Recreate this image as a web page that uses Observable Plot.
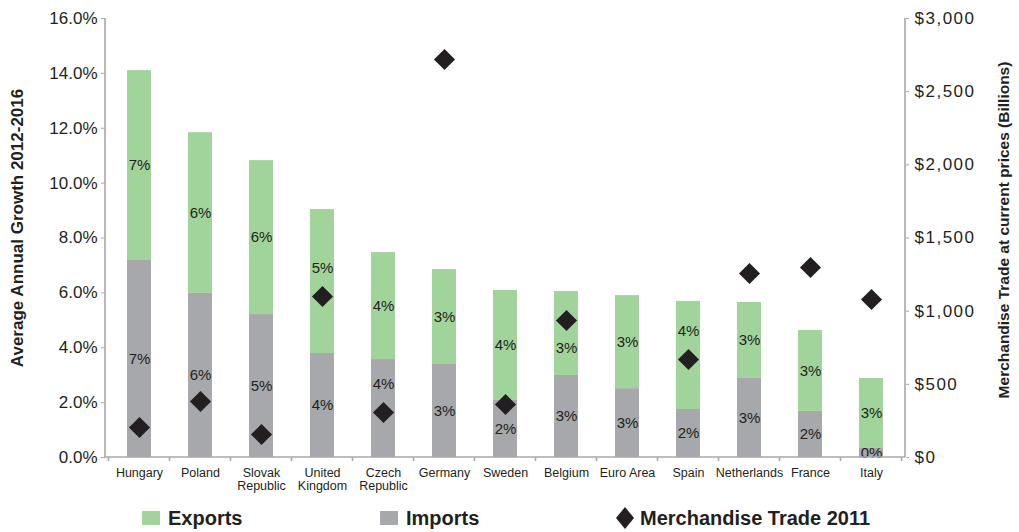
<!DOCTYPE html>
<html>
<head>
<meta charset="utf-8">
<script src="https://cdn.jsdelivr.net/npm/d3@7"></script>
<script src="https://cdn.jsdelivr.net/npm/@observablehq/plot@0.6"></script>
<style>
  body { margin: 0; background: #fff; font-family: "Liberation Sans", Arial, sans-serif; color: #231f20; }
  #chart svg { display: block; }
  .right-ticks text { letter-spacing: 1.5px; }
  #legend { position: relative; width: 1019px; height: 32px; font: bold 20px "Liberation Sans", Arial, sans-serif; color: #231f20; }
  #legend .item { position: absolute; top: 0; height: 32px; }
  #legend .sw { position: absolute; top: 11px; width: 18px; height: 14px; }
  #legend .lbl { position: absolute; top: 6px; line-height: 24px; white-space: nowrap; }
</style>
</head>
<body>
<div id="chart"></div>
<div id="legend"></div>
<script>
const categories = ["Hungary","Poland","Slovak Republic","United Kingdom","Czech Republic","Germany","Sweden","Belgium","Euro Area","Spain","Netherlands","France","Italy"];
const xLabels = ["Hungary","Poland","Slovak\nRepublic","United\nKingdom","Czech\nRepublic","Germany","Sweden","Belgium","Euro Area","Spain","Netherlands","France","Italy"];
const imports = [7.18,5.98,5.21,3.79,3.57,3.39,2.08,2.99,2.51,1.75,2.88,1.68,0.33];
const exports = [6.92,5.86,5.61,5.25,3.90,3.46,4.01,3.06,3.39,3.94,2.77,2.95,2.55];
const importLabels = ["7%","6%","5%","4%","4%","3%","2%","3%","3%","2%","3%","2%","0%"];
const exportLabels = ["7%","6%","6%","5%","4%","3%","4%","3%","3%","4%","3%","3%","3%"];
const trade2011 = [205,383,157,1100,307,2720,362,936,null,670,1257,1298,1080];
const leftTicks = [0,2,4,6,8,10,12,14,16];
const rightTicks = [0,500,1000,1500,2000,2500,3000];
const leftMax = 16, rightMax = 3000;
const leftTitle = "Average Annual Growth 2012-2016";
const rightTitle = "Merchandise Trade at current prices (Billions)";
const seriesNames = ["Exports","Imports","Merchandise Trade 2011"];
const green = "#a1d49b", gray = "#a6a8ab", ink = "#231f20", axisGray = "#a8a8a8";

const toLeft = v => v / rightMax * leftMax;

// label placement: keep segment labels clear of the diamond markers
const clearNear = 0.73, clearAway = 1.02; // in left-axis units
const segs = [];
categories.forEach((c, i) => {
  const d = trade2011[i] == null ? null : toLeft(trade2011[i]);
  const place = (y1, y2) => {
    const mid = (y1 + y2) / 2;
    if (d == null || Math.abs(mid - d) >= clearNear) return mid;
    return mid >= d ? d + clearAway : d - clearAway;
  };
  segs.push({country: c, type: "Imports", y1: 0, y2: imports[i], label: importLabels[i], ly: place(0, imports[i])});
  segs.push({country: c, type: "Exports", y1: imports[i], y2: imports[i] + exports[i], label: exportLabels[i], ly: place(imports[i], imports[i] + exports[i])});
});
const trade = categories.map((c, i) => ({country: c, trade: trade2011[i]})).filter(d => d.trade != null);

function axisLines(index, scales, values, dimensions) {
  const {width, height, marginLeft, marginRight, marginBottom} = dimensions;
  const x = scales.x;
  const step = x(categories[1]) - x(categories[0]);
  const bw = typeof x.bandwidth === "function" ? x.bandwidth() : step * 0.39;
  const start = x(categories[0]) - (step - bw) / 2;
  const yb = height - marginBottom;
  const g = d3.create("svg:g").attr("stroke", axisGray).attr("stroke-width", 1.6).attr("fill", "none");
  g.append("line").attr("x1", marginLeft).attr("x2", width - marginRight).attr("y1", yb).attr("y2", yb);
  g.append("line").attr("x1", marginLeft).attr("x2", marginLeft).attr("y1", scales.y(leftMax)).attr("y2", yb);
  g.append("line").attr("x1", width - marginRight).attr("x2", width - marginRight).attr("y1", scales.y(leftMax)).attr("y2", yb);
  for (let i = 0; i <= categories.length; i++) {
    const xx = start + i * step;
    g.append("line").attr("x1", xx).attr("x2", xx).attr("y1", yb).attr("y2", yb + 4);
  }
  return g.node();
}

const chart = Plot.plot({
  width: 1019,
  height: 500,
  marginLeft: 105,
  marginRight: 114,
  marginTop: 18,
  marginBottom: 43,
  style: {fontFamily: '"Liberation Sans", Arial, sans-serif', color: ink, background: "#fff"},
  x: {domain: categories, paddingInner: 0.61, paddingOuter: 0.305, align: 0.5},
  y: {domain: [0, leftMax]},
  marks: [
    Plot.barY(segs, {x: "country", y1: "y1", y2: "y2", fill: d => d.type === "Imports" ? gray : green}),
    Plot.text(segs, {x: "country", y: "ly", text: "label", fontSize: 15, fill: ink}),
    Plot.dot(trade, {x: "country", y: d => toLeft(d.trade), symbol: "diamond2", r: 9.5, fill: ink, stroke: "none"}),
    Plot.axisX({tickSize: 0, tickPadding: 11, fontSize: 12.5, tickFormat: (d) => xLabels[categories.indexOf(d)], label: null}),
    Plot.axisY(leftTicks, {anchor: "left", tickSize: 4, tickPadding: 4, stroke: axisGray, fontSize: 17, tickFormat: d => d.toFixed(1) + "%", label: null}),
    Plot.axisY(rightTicks.map(toLeft), {anchor: "right", tickSize: 3, tickPadding: 6, stroke: axisGray, fontSize: 17, className: "right-ticks", tickFormat: d => "$" + d3.format(",")(Math.round(d * rightMax / leftMax)), label: null}),
    axisLines,
    Plot.text([leftTitle], {text: d => d, frameAnchor: "left", dx: -88, dy: -10, rotate: -90, textAnchor: "middle", lineAnchor: "middle", fontWeight: "bold", fontSize: 17, fill: ink}),
    Plot.text([rightTitle], {text: d => d, frameAnchor: "right", dx: 99, dy: -8, rotate: -90, textAnchor: "middle", lineAnchor: "middle", fontWeight: "bold", fontSize: 15.5, fill: ink})
  ]
});
document.getElementById("chart").appendChild(chart);

const legend = document.getElementById("legend");
const legendPos = [142, 380, 615];
const legendSw = [green, gray, null];
seriesNames.forEach((name, i) => {
  const item = document.createElement("div");
  item.className = "item";
  item.style.left = legendPos[i] + "px";
  if (legendSw[i]) {
    const sw = document.createElement("div");
    sw.className = "sw";
    sw.style.background = legendSw[i];
    sw.style.left = "0px";
    item.appendChild(sw);
  } else {
    const ns = "http://www.w3.org/2000/svg";
    const s = document.createElementNS(ns, "svg");
    s.setAttribute("width", 20); s.setAttribute("height", 24);
    s.style.position = "absolute"; s.style.left = "0px"; s.style.top = "6px";
    const p = document.createElementNS(ns, "polygon");
    p.setAttribute("points", "10,1 19,12 10,23 1,12");
    p.setAttribute("fill", ink);
    s.appendChild(p);
    item.appendChild(s);
  }
  const lbl = document.createElement("div");
  lbl.className = "lbl";
  lbl.style.left = (legendSw[i] ? 26 : 25) + "px";
  lbl.textContent = name;
  item.appendChild(lbl);
  legend.appendChild(item);
});
</script>
</body>
</html>
